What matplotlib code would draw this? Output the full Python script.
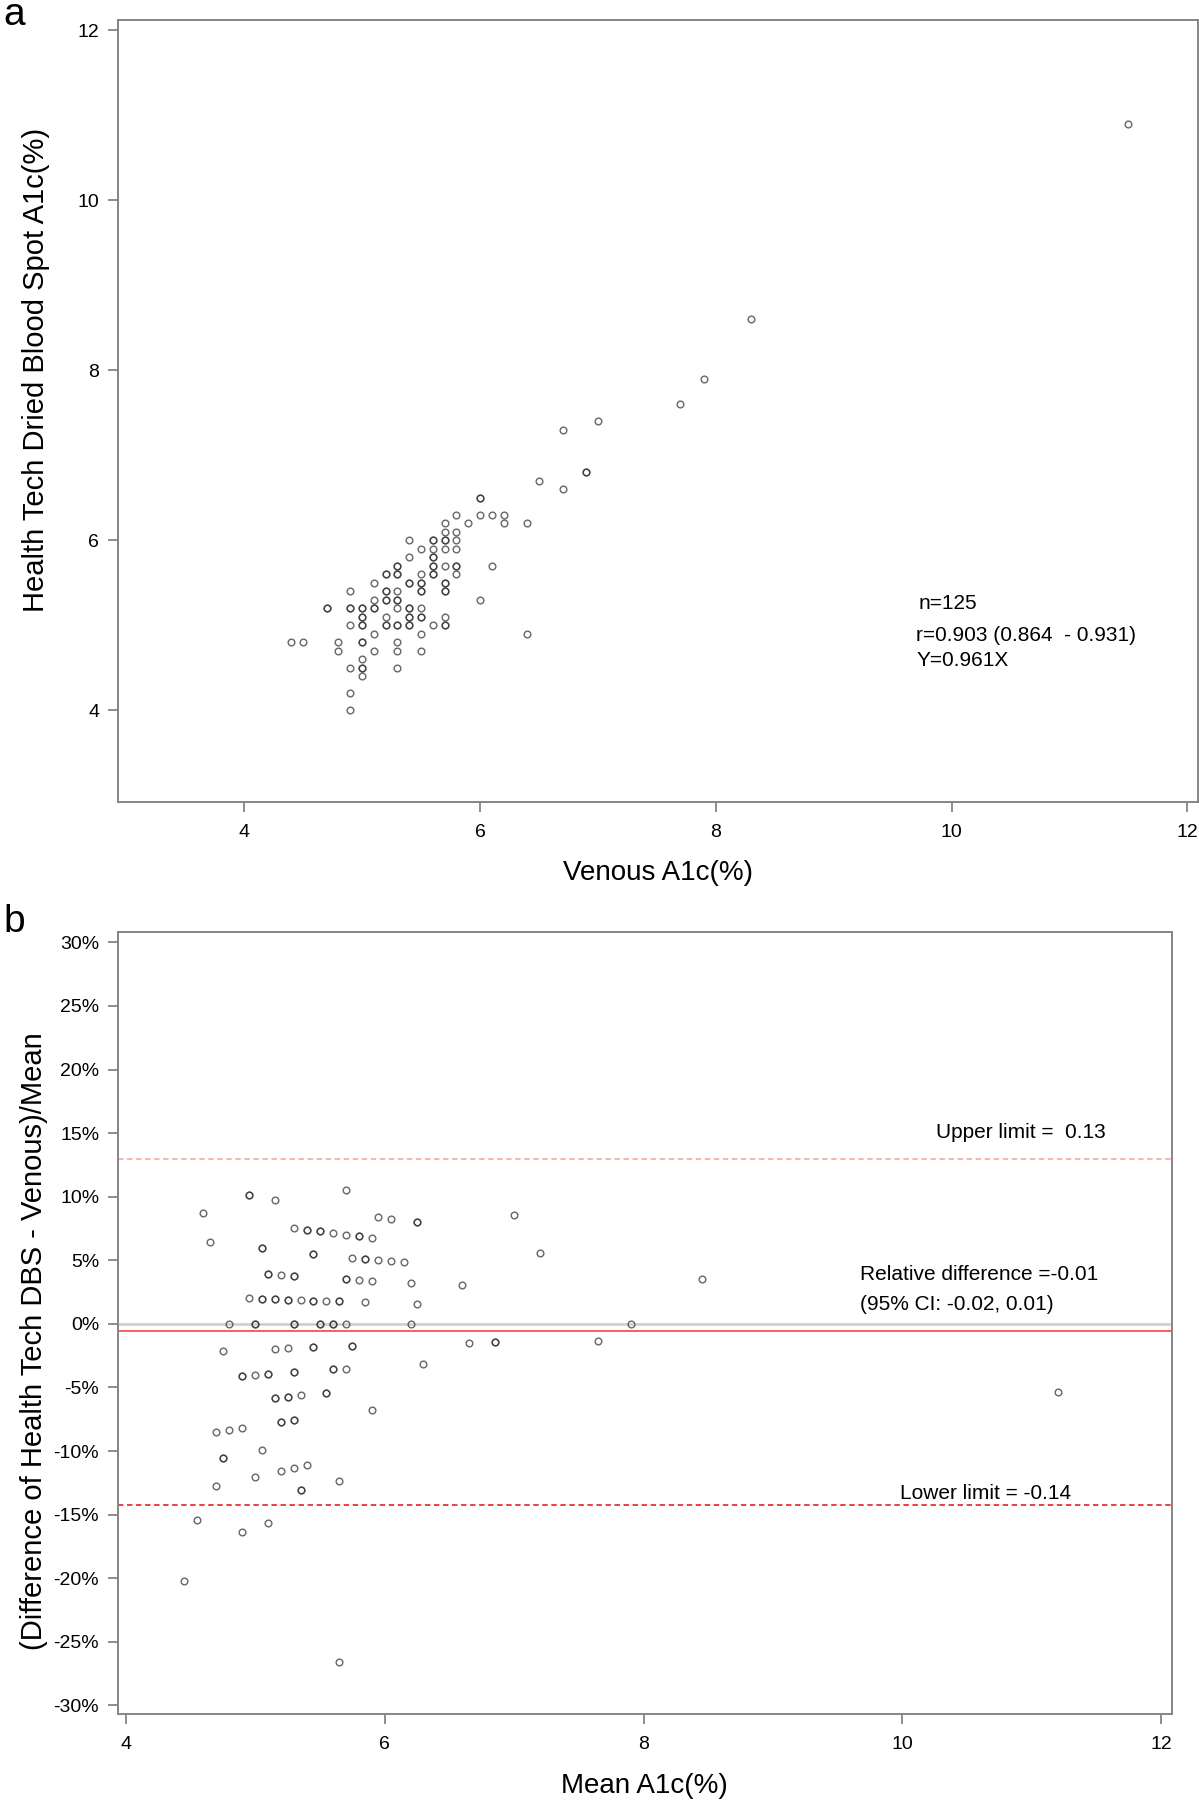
import numpy as np
import matplotlib.pyplot as plt
from matplotlib.ticker import PercentFormatter

plt.rcParams['font.family'] = ['Liberation Sans', 'DejaVu Sans']
plt.rcParams['axes.unicode_minus'] = False

# venous vs dried blood spot A1c (%)
venous = [11.5, 8.3, 7.9, 7.7, 7.0, 6.7, 6.9, 6.5, 6.7, 6.0,
          5.8, 6.0, 6.1, 6.2,
          5.7, 5.9, 6.2, 6.4,
          5.7, 5.8,
          5.4, 5.6, 5.7, 5.8,
          5.5, 5.6, 5.7, 5.8,
          5.4, 5.6,
          5.3, 5.6, 5.7, 5.8, 6.1,
          5.2, 5.3, 5.5, 5.6, 5.8,
          5.1, 5.4, 5.5, 5.7,
          4.9, 5.2, 5.3, 5.5, 5.7,
          5.1, 5.2, 5.3, 6.0,
          4.7, 4.9, 5.0, 5.1, 5.3, 5.4, 5.5,
          5.0, 5.2, 5.4, 5.5, 5.7,
          4.9, 5.0, 5.2, 5.3, 5.4, 5.6, 5.7,
          5.1, 5.5, 6.4,
          4.4, 4.5, 4.8, 5.0, 5.3,
          4.8, 5.1, 5.3, 5.5,
          5.0,
          4.9, 5.0, 5.3,
          5.0,
          4.9,
          4.9]
dbs = [10.9, 8.6, 7.9, 7.6, 7.4, 7.3, 6.8, 6.7, 6.6, 6.5,
       6.3, 6.3, 6.3, 6.3,
       6.2, 6.2, 6.2, 6.2,
       6.1, 6.1,
       6.0, 6.0, 6.0, 6.0,
       5.9, 5.9, 5.9, 5.9,
       5.8, 5.8,
       5.7, 5.7, 5.7, 5.7, 5.7,
       5.6, 5.6, 5.6, 5.6, 5.6,
       5.5, 5.5, 5.5, 5.5,
       5.4, 5.4, 5.4, 5.4, 5.4,
       5.3, 5.3, 5.3, 5.3,
       5.2, 5.2, 5.2, 5.2, 5.2, 5.2, 5.2,
       5.1, 5.1, 5.1, 5.1, 5.1,
       5.0, 5.0, 5.0, 5.0, 5.0, 5.0, 5.0,
       4.9, 4.9, 4.9,
       4.8, 4.8, 4.8, 4.8, 4.8,
       4.7, 4.7, 4.7, 4.7,
       4.6,
       4.5, 4.5, 4.5,
       4.4,
       4.2,
       4.0]

# repeated pairs (darker, overlapping circles)
venous_rep = [5.4, 5.6, 5.6, 5.2, 5.3, 5.3, 5.2, 5.7, 4.7, 5.1, 5.4, 6.0,
              5.4, 5.5, 5.3, 5.4, 5.5, 5.8, 5.7, 5.0, 4.9, 5.0, 5.2, 5.0,
              5.7, 5.0, 5.6, 5.5, 6.9, 5.7, 5.2, 5.3, 5.0, 5.6]
dbs_rep = [5.5, 5.8, 5.7, 5.6, 5.6, 5.3, 5.4, 5.4, 5.2, 5.2, 5.2, 6.5,
           5.1, 5.1, 5.0, 5.0, 5.5, 5.7, 6.0, 4.5, 5.2, 5.0, 5.3, 4.8,
           5.0, 5.1, 5.6, 5.4, 6.8, 5.5, 5.0, 5.7, 5.2, 6.0]

stats_text = ['n=125', 'r=0.903 (0.864  - 0.931)', 'Y=0.961X']
upper_limit = 0.130
lower_limit = -0.1425
mean_diff = -0.0055
pct_ticks = [-0.30, -0.25, -0.20, -0.15, -0.10, -0.05, 0.0,
             0.05, 0.10, 0.15, 0.20, 0.25, 0.30]

ven = np.array(venous + venous_rep)
dbs_all = np.array(dbs + dbs_rep)
mean_a1c = (ven + dbs_all) / 2
rel_diff = (dbs_all - ven) / mean_a1c

spine_col = '#858585'
mk = dict(ls='none', marker='o', ms=4.8, mfc='none', mec='#333333', mew=1.05, alpha=0.72)


def style(ax):
    for s in ax.spines.values():
        s.set_color(spine_col)
        s.set_linewidth(1.4)
    ax.tick_params(direction='out', length=7.5, width=1.3, color=spine_col,
                   labelsize=14, pad=6)


fig = plt.figure(figsize=(11.99, 18), dpi=100)

# panel a
ax1 = fig.add_axes([0.0984, 0.55444, 0.9008, 0.43444])
ax1.plot(ven, dbs_all, **mk)
ax1.set_xlim(2.93, 12.09)
ax1.set_ylim(2.92, 12.12)
ax1.set_xticks([4, 6, 8, 10, 12])
ax1.set_yticks([4, 6, 8, 10, 12])
style(ax1)
ax1.tick_params(axis='x', pad=8)
ax1.set_xlabel('Venous A1c(%)', fontsize=20)
ax1.set_ylabel('Health Tech Dried Blood Spot A1c(%)', fontsize=21)
ax1.xaxis.set_label_coords(0.5, -0.091)
ax1.xaxis.label.set_va('center')
ax1.yaxis.set_label_coords(-0.076, 0.552)
ax1.yaxis.label.set_va('center')
ax1.text(9.72, 5.26, stats_text[0], fontsize=15, va='center')
ax1.text(9.70, 4.88, stats_text[1], fontsize=15, va='center')
ax1.text(9.70, 4.59, stats_text[2], fontsize=15, va='center')

# panel b
ax2 = fig.add_axes([0.0984, 0.04778, 0.87883, 0.43444])
ax2.axhline(0, color='#cccccc', lw=1.8, zorder=1)
ax2.axhline(mean_diff, color='#ff4d4d', lw=1.3, zorder=1)
ax2.axhline(upper_limit, color='#ffaaaa', lw=1.3, ls=(0, (3, 2)), zorder=1)
ax2.axhline(lower_limit, color='#ee3030', lw=1.3, ls=(0, (3, 2)), zorder=1)
ax2.plot(mean_a1c, rel_diff, **mk)
ax2.set_xlim(3.94, 12.08)
ax2.set_ylim(-0.3067, 0.3081)
ax2.set_xticks([4, 6, 8, 10, 12])
ax2.set_yticks(pct_ticks)
ax2.yaxis.set_major_formatter(PercentFormatter(1.0, decimals=0))
style(ax2)
ax2.tick_params(axis='x', pad=8)
ax2.set_xlabel('Mean A1c(%)', fontsize=20)
ax2.set_ylabel('(Difference of Health Tech DBS - Venous)/Mean', fontsize=21)
ax2.xaxis.set_label_coords(0.5, -0.092)
ax2.xaxis.label.set_va('center')
ax2.yaxis.set_label_coords(-0.080, 0.477)
ax2.yaxis.label.set_va('center')
ax2.text(10.26, 0.1507, 'Upper limit =  0.13', fontsize=15, va='center')
ax2.text(9.67, 0.0385, 'Relative difference =-0.01', fontsize=15, va='center')
ax2.text(9.67, 0.0149, '(95% CI: -0.02, 0.01)', fontsize=15, va='center')
ax2.text(9.98, -0.1331, 'Lower limit = -0.14', fontsize=15, va='center')

fig.text(3 / 1199, 1 - 25 / 1800, 'a', fontsize=28, va='baseline')
fig.text(3 / 1199, 1 - 932 / 1800, 'b', fontsize=28, va='baseline')

fig.savefig('out.png', dpi=100)
